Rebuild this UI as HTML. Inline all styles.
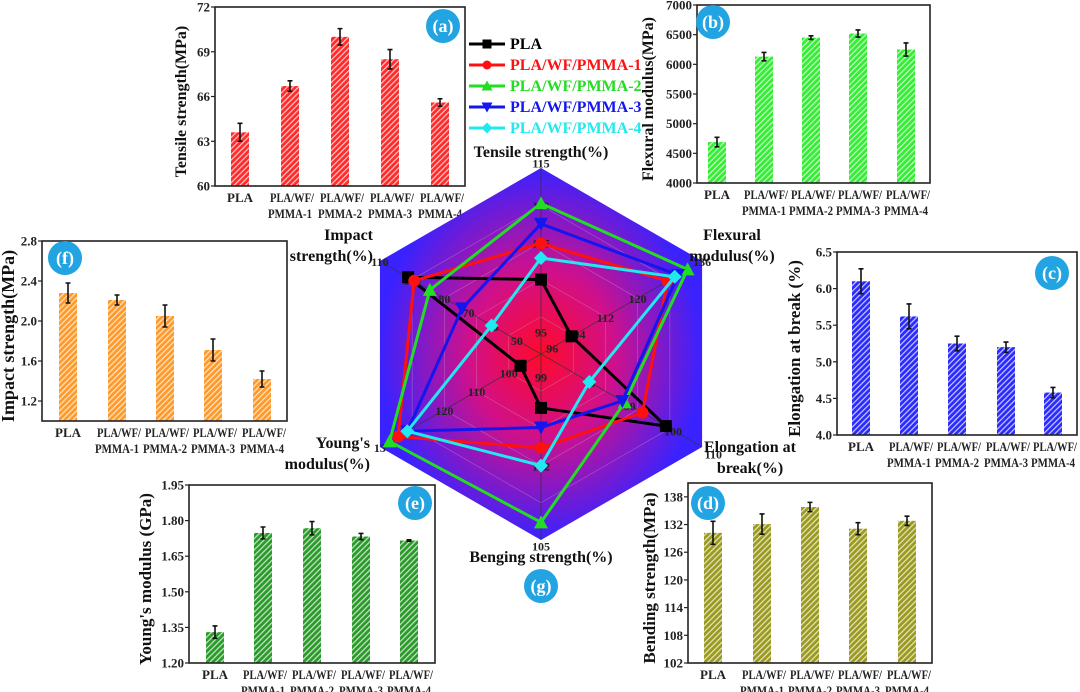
<!DOCTYPE html>
<html><head><meta charset="utf-8"><style>
body{margin:0;background:#fff;}
svg{display:block;font-family:"Liberation Serif",serif;font-weight:bold;}
</style></head><body>
<svg id="fig" width="1080" height="692" viewBox="0 0 1080 692">
<defs>
<radialGradient id="rg" cx="50%" cy="50%" r="50%">
<stop offset="0%" stop-color="#ff0a2a"/><stop offset="45%" stop-color="#d0108a"/><stop offset="100%" stop-color="#3a22ff"/>
</radialGradient>
</defs>
<g id="panels"></g>
<g id="radar"></g>
</svg>
<script>
const NS='http://www.w3.org/2000/svg';
const svg=document.getElementById('fig');
const defs=svg.querySelector('defs');
function mk(tag,attrs,parent,text){const e=document.createElementNS(NS,tag);for(const k in attrs)e.setAttribute(k,attrs[k]);if(text!==undefined)e.textContent=text;(parent||svg).appendChild(e);return e;}

// ---- bar panel data ----
const categories=['PLA','PLA/WF/|PMMA-1','PLA/WF/|PMMA-2','PLA/WF/|PMMA-3','PLA/WF/|PMMA-4'];
const tensileValues=[63.6,66.7,70.0,68.5,65.6];
const tensileErr=[0.6,0.35,0.55,0.65,0.25];
const tensileTicks=[60,63,66,69,72];
const flexValues=[4690,6130,6450,6520,6250];
const flexErr=[80,70,30,60,110];
const flexTicks=[4000,4500,5000,5500,6000,6500,7000];
const elongValues=[6.1,5.62,5.25,5.2,4.58];
const elongErr=[0.17,0.17,0.1,0.07,0.07];
const elongTicks=[4.0,4.5,5.0,5.5,6.0,6.5];
const bendValues=[130.2,132.1,135.8,131.1,132.8];
const bendErr=[2.5,2.2,1.0,1.3,1.0];
const bendTicks=[102,108,114,120,126,132,138];
const youngValues=[1.33,1.748,1.768,1.733,1.716];
const youngErr=[0.026,0.025,0.028,0.013,0.003];
const youngTicks=[1.20,1.35,1.50,1.65,1.80,1.95];
const impactValues=[2.28,2.21,2.05,1.71,1.42];
const impactErr=[0.1,0.05,0.11,0.11,0.08];
const impactTicks=[1.2,1.6,2.0,2.4,2.8];

const panels=[
 {id:'a',name:'tensile-strength-panel',L:215,R:465,T:7,B:186,min:60,max:72,vals:tensileValues,err:tensileErr,ticks:tensileTicks,dec:0,color:'#ff2a2a',title:'Tensile strength(MPa)',tx:186,ts:16,badge:[443,26],bx:[240,290,340,390,440]},
 {id:'b',name:'flexural-modulus-panel',L:697,R:930,T:5,B:183,min:4000,max:7000,vals:flexValues,err:flexErr,ticks:flexTicks,dec:0,color:'#33ee33',title:'Flexural modulus(MPa)',tx:653,ts:16,badge:[713,22],bx:[717,764,811,858,906]},
 {id:'c',name:'elongation-panel',L:837,R:1077,T:252,B:435,min:4.0,max:6.5,vals:elongValues,err:elongErr,ticks:elongTicks,dec:1,color:'#2a2aff',title:'Elongation at break (%)',tx:800,ts:17,badge:[1052,273],bx:[861,909,957,1006,1053]},
 {id:'d',name:'bending-strength-panel',L:688,R:932,T:483,B:663,min:102,max:141,vals:bendValues,err:bendErr,ticks:bendTicks,dec:0,color:'#9a9a1e',title:'Bending strength(MPa)',tx:655,ts:17,badge:[708,503],bx:[713,762,810,858,907]},
 {id:'e',name:'youngs-modulus-panel',L:189,R:435,T:485,B:663,min:1.20,max:1.95,vals:youngValues,err:youngErr,ticks:youngTicks,dec:2,color:'#2a9a2a',title:"Young's modulus (GPa)",tx:151,ts:17,badge:[415,503],bx:[215,263,312,361,409]},
 {id:'f',name:'impact-strength-panel',L:42,R:287,T:241,B:421,min:1.0,max:2.8,vals:impactValues,err:impactErr,ticks:impactTicks,dec:1,color:'#ff9a2a',title:'Impact strength(MPa)',tx:14,ts:18,badge:[65,258],bx:[68,117,165,213,262]}
];
const pg=document.getElementById('panels');
panels.forEach(p=>{
  const pat=mk('pattern',{id:'h'+p.id,width:4,height:4,patternUnits:'userSpaceOnUse',patternTransform:'rotate(45)'},defs);
  mk('rect',{width:4,height:4,fill:p.color},pat);
  mk('rect',{width:1.2,height:4,fill:'#ffffff',opacity:0.75},pat);
  const g=mk('g',{},pg);
  
  
  const y=v=>p.B-(v-p.min)/(p.max-p.min)*(p.B-p.T);
  p.vals.forEach((v,i)=>{
    const bw=18,x=p.bx[i];
    const r=mk('rect',{x:x-bw/2,y:y(v),width:bw,height:p.B-y(v),fill:'url(#h'+p.id+')'},g);
    
    
    const e=p.err[i];
    mk('path',{d:`M${x} ${y(v+e)}V${y(v-e)}M${x-2.5} ${y(v+e)}H${x+2.5}M${x-2.5} ${y(v-e)}H${x+2.5}`,stroke:'#111','stroke-width':1.6,fill:'none'},g);
  });
  mk('rect',{x:p.L,y:p.T,width:p.R-p.L,height:p.B-p.T,fill:'none',stroke:'#222','stroke-width':1.6},g);
  p.ticks.forEach(t=>{
    const ty=y(t);
    mk('line',{x1:p.L,x2:p.L-4,y1:ty,y2:ty,stroke:'#222','stroke-width':1.2},g);
    const tl=mk('text',{x:p.L-5,y:ty+4.5,'text-anchor':'end','font-size':13,fill:'#222'},g,t.toFixed(p.dec));
    
    
  });
  categories.forEach((c,i)=>{
    const parts=c.split('|');
    parts.forEach((s,j)=>{
      const at={x:p.bx[i]+(j==0&&parts.length>1?2:0),y:p.B+16+j*16,'text-anchor':'middle','font-size':13,fill:'#222'};
      if(parts.length>1){at.textLength=44;at.lengthAdjust='spacingAndGlyphs';}
      const ct=mk('text',at,g,s);
      
      
    });
  });
  const tx=p.tx,ty=(p.T+p.B)/2;
  const at=mk('text',{x:tx,y:ty+5,'text-anchor':'middle','font-size':p.ts,fill:'#111',transform:`rotate(-90 ${tx} ${ty+5})`},g,p.title);
  
  
  const bg=mk('g',{},g);
  
  
  mk('circle',{cx:p.badge[0],cy:p.badge[1],r:17,fill:'#22a4e2'},bg);
  mk('text',{x:p.badge[0],y:p.badge[1]+6,'text-anchor':'middle','font-size':18,fill:'#fff'},bg,'('+p.id+')');
});

// ---- radar data ----
const radarAxes=['Tensile strength','Flexural modulus','Elongation at break','Bending strength',"Young's modulus",'Impact strength'];
const seriesNames=['PLA','PLA/WF/PMMA-1','PLA/WF/PMMA-2','PLA/WF/PMMA-3','PLA/WF/PMMA-4'];
const seriesColors=['#000000','#ff1010','#22dd22','#1515ee','#22e8f0'];
const radarPLA=[0.40,0.19,0.775,0.29,0.127,0.825];
const radarPMMA1=[0.595,0.785,0.63,0.505,0.887,0.787];
const radarPMMA2=[0.81,0.91,0.52,0.905,0.94,0.69];
const radarPMMA3=[0.70,0.85,0.505,0.395,0.83,0.49];
const radarPMMA4=[0.516,0.83,0.30,0.60,0.83,0.307];
const radarSeries=[radarPLA,radarPMMA1,radarPMMA2,radarPMMA3,radarPMMA4];

const rg=document.getElementById('radar');
const CX=541,CY=354,RAD=186;
const ang=i=>(-90+60*i)*Math.PI/180;
const pt=(i,f)=>[CX+Math.cos(ang(i))*RAD*f,CY+Math.sin(ang(i))*RAD*f];
const hex=f=>[0,1,2,3,4,5].map(i=>pt(i,f).join(',')).join(' ');
mk('polygon',{points:hex(1),fill:'url(#rg)'},rg);
[0.2,0.4,0.6,0.8].forEach(f=>mk('polygon',{points:hex(f),fill:'none',stroke:'#c8a0c8','stroke-width':0.6,opacity:0.5},rg));
for(let i=0;i<6;i++){const q=pt(i,1);mk('line',{x1:CX,y1:CY,x2:q[0],y2:q[1],stroke:'#333','stroke-width':0.7},rg);}
[['115',0,1.03],['110',0,0.8],['105',0,0.6],['95',0,0.12],['136',1,1.0],['120',1,0.6],['112',1,0.4],['104',1,0.22],['96',1,0.07],['110',2,1.07],['100',2,0.82],['80',2,0.55],['70',2,0.3],['105',3,1.03],['102',3,0.6],['99',3,0.12],['13',4,1.0],['120',4,0.6],['110',4,0.4],['100',4,0.2],['110',5,1.0],['100',5,0.8],['80',5,0.6],['70',5,0.45],['60',5,0.3],['50',5,0.15]].forEach(a=>{
  const q=pt(a[1],a[2]);mk('text',{x:q[0],y:q[1]+5,'text-anchor':'middle','font-size':12,fill:'#222'},rg,a[0]);
});
radarSeries.forEach((s,k)=>{
  const g=mk('g',{},rg);
  
  
  const pts=s.map((f,i)=>pt(i,f));
  mk('polygon',{points:pts.map(p=>p.join(',')).join(' '),fill:'none',stroke:seriesColors[k],'stroke-width':3},g);
  pts.forEach(p=>marker(g,k,p[0],p[1],6));
});
function marker(g,k,x,y,s){
  const c=seriesColors[k];
  if(k==0)mk('rect',{x:x-s,y:y-s,width:2*s,height:2*s,fill:c},g);
  else if(k==1)mk('circle',{cx:x,cy:y,r:s,fill:c},g);
  else if(k==2)mk('polygon',{points:`${x},${y-s-1} ${x-s-1},${y+s} ${x+s+1},${y+s}`,fill:c},g);
  else if(k==3)mk('polygon',{points:`${x},${y+s+1} ${x-s-1},${y-s} ${x+s+1},${y-s}`,fill:c},g);
  else mk('polygon',{points:`${x},${y-s-1} ${x+s+1},${y} ${x},${y+s+1} ${x-s-1},${y}`,fill:c},g);
}
[[['Tensile strength(%)'],541,157,'middle'],[['Flexural','modulus(%)'],732,240,'middle'],[['Elongation at','break(%)'],750,452,'middle'],[['Benging strength(%)'],541,562,'middle'],[["Young's",'modulus(%)'],370,448,'end'],[['Impact','strength(%)'],373,240,'end']].forEach((a,i)=>{
  a[0].forEach((s,j)=>{
    const t=mk('text',{x:a[1],y:a[2]+j*21,'text-anchor':a[3],'font-size':16,fill:'#111'},rg,s);
    
    
  });
});
const gb=mk('g',{},rg);


mk('circle',{cx:541,cy:586,r:17,fill:'#22a4e2'},gb);
mk('text',{x:541,y:592,'text-anchor':'middle','font-size':18,fill:'#fff'},gb,'(g)');
const lg=mk('g',{},svg);


seriesNames.forEach((n,k)=>{
  const y=44+k*21;
  const e=mk('g',{},lg);
  
  
  mk('line',{x1:469,x2:505,y1:y,y2:y,stroke:seriesColors[k],'stroke-width':3},e);
  marker(e,k,487,y,4.5);
  mk('text',{x:510,y:y+5,'font-size':16,fill:seriesColors[k]},e,n);
});
</script>
</body></html>
